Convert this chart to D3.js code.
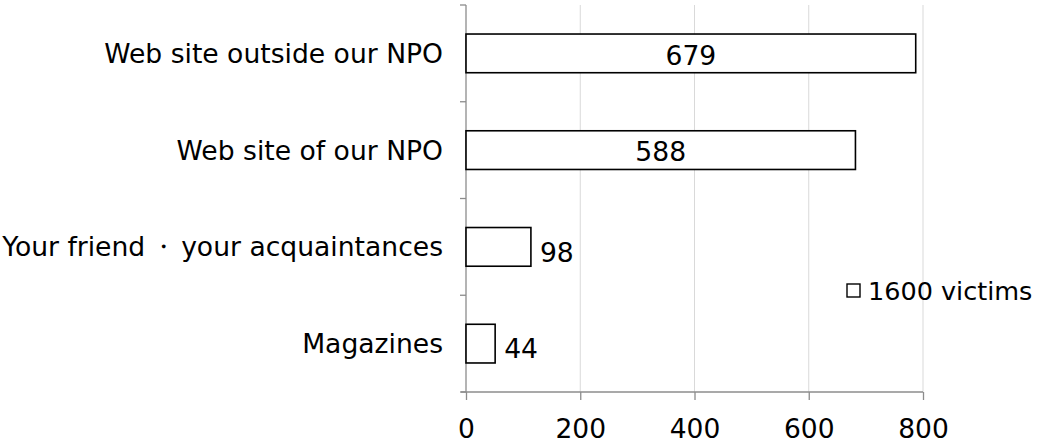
<!DOCTYPE html>
<html>
<head>
<meta charset="utf-8">
<script src="https://cdn.jsdelivr.net/npm/d3@7"></script>
<style>
  html, body { margin: 0; padding: 0; background: #fff; }
  svg text { font-family: "DejaVu Sans", Verdana, sans-serif; fill: #000; }
</style>
</head>
<body>
<svg id="chart" width="1044" height="443"></svg>
<script>
// How respondents found out about the NPO
const categories = [
  "Web site outside our NPO",
  "Web site of our NPO",
  "Your friend \u30FB your acquaintances",
  "Magazines"
];
const victims = [679, 588, 98, 44];
const xTicks = [0, 200, 400, 600, 800];
const seriesName = "1600 victims";

const svg = d3.select("#chart");
const plotLeft = 466, plotRight = 923, plotTop = 5, plotBottom = 392;

// Value axis shown at the bottom
const x = d3.scaleLinear().domain([0, 800]).range([plotLeft, plotRight]);
// Bars are plotted against their own auto-scaled value axis
const barScale = d3.scaleLinear().domain([0, 690]).range([plotLeft, plotRight]);

const y = d3.scaleBand()
  .domain(categories)
  .range([plotTop, plotBottom])
  .paddingInner(0.6)
  .paddingOuter(0.3);

// Vertical gridlines
svg.append("g")
  .selectAll("line")
  .data(xTicks.filter(d => d > 0))
  .join("line")
  .attr("x1", d => x(d)).attr("x2", d => x(d))
  .attr("y1", plotTop).attr("y2", plotBottom)
  .attr("stroke", "#d9d9d9")
  .attr("stroke-width", 1);

// Bottom axis
const xAxis = svg.append("g")
  .attr("transform", `translate(0,${plotBottom})`)
  .call(d3.axisBottom(x).tickValues(xTicks).tickSize(8).tickPadding(19).tickSizeOuter(0));
xAxis.select(".domain").remove();
xAxis.selectAll(".tick line").attr("stroke", "#8c8c8c").attr("stroke-width", 1.3);
xAxis.selectAll(".tick text")
  .style("font-size", "26.5px")
  .attr("fill", "#000");
svg.append("line")
  .attr("x1", plotLeft - 5).attr("x2", plotRight)
  .attr("y1", plotBottom).attr("y2", plotBottom)
  .attr("stroke", "#8c8c8c").attr("stroke-width", 1.3);

// Left axis line with ticks at category boundaries
const step = y.step();
const boundaries = categories.map(c => y(c) - step * y.paddingInner() / 2)
  .concat([y(categories[categories.length - 1]) + y.bandwidth() + step * y.paddingInner() / 2]);
svg.append("line")
  .attr("x1", plotLeft).attr("x2", plotLeft)
  .attr("y1", plotTop).attr("y2", plotBottom)
  .attr("stroke", "#8c8c8c").attr("stroke-width", 1.3);
svg.append("g")
  .selectAll("line")
  .data(boundaries)
  .join("line")
  .attr("x1", plotLeft - 6).attr("x2", plotLeft)
  .attr("y1", d => d).attr("y2", d => d)
  .attr("stroke", "#8c8c8c").attr("stroke-width", 1.3);

// Category labels; the full-width middle dot is set smaller and raised a little
svg.append("g")
  .selectAll("text")
  .data(categories)
  .join("text")
  .attr("x", 443)
  .attr("y", d => y(d) + y.bandwidth() / 2)
  .attr("dy", "0.36em")
  .attr("text-anchor", "end")
  .style("font-size", "26.6px")
  .each(function (d) {
    const parts = d.split("\u30FB");
    const t = d3.select(this);
    parts.forEach((p, i) => {
      if (i > 0) {
        t.append("tspan").attr("dy", -3)
          .style("font-size", "19px").style("font-weight", "bold").text("\u30FB");
        t.append("tspan").attr("dy", 3).text(p);
      } else {
        t.append("tspan").text(p);
      }
    });
  });

const rows = categories.map((c, i) => ({ cat: c, value: victims[i] }));

// Bars
svg.append("g")
  .selectAll("rect")
  .data(rows)
  .join("rect")
  .attr("x", barScale(0))
  .attr("y", d => y(d.cat))
  .attr("width", d => barScale(d.value) - barScale(0))
  .attr("height", y.bandwidth())
  .attr("fill", "#fff")
  .attr("stroke", "#000")
  .attr("stroke-width", 1.6);

// Value labels: centred inside long bars, just past the end of short ones
svg.append("g")
  .selectAll("text")
  .data(rows)
  .join("text")
  .each(function (d) {
    const w = barScale(d.value) - barScale(0);
    const inside = w > 120;
    d3.select(this)
      .attr("x", inside ? barScale(0) + w / 2 : barScale(d.value) + 9)
      .attr("y", y(d.cat) + y.bandwidth() / 2)
      .attr("dy", inside ? "0.42em" : "0.55em")
      .attr("text-anchor", inside ? "middle" : "start");
  })
  .style("font-size", "26.6px")
  .text(d => d.value);

// Legend
const legend = svg.append("g").attr("transform", "translate(847,284)");
legend.append("rect")
  .attr("x", 0).attr("y", 0)
  .attr("width", 13).attr("height", 13)
  .attr("fill", "#fff")
  .attr("stroke", "#000")
  .attr("stroke-width", 1.4);
legend.append("text")
  .attr("x", 21).attr("y", 16)
  .style("font-size", "25.5px")
  .text(seriesName);
</script>
</body>
</html>
